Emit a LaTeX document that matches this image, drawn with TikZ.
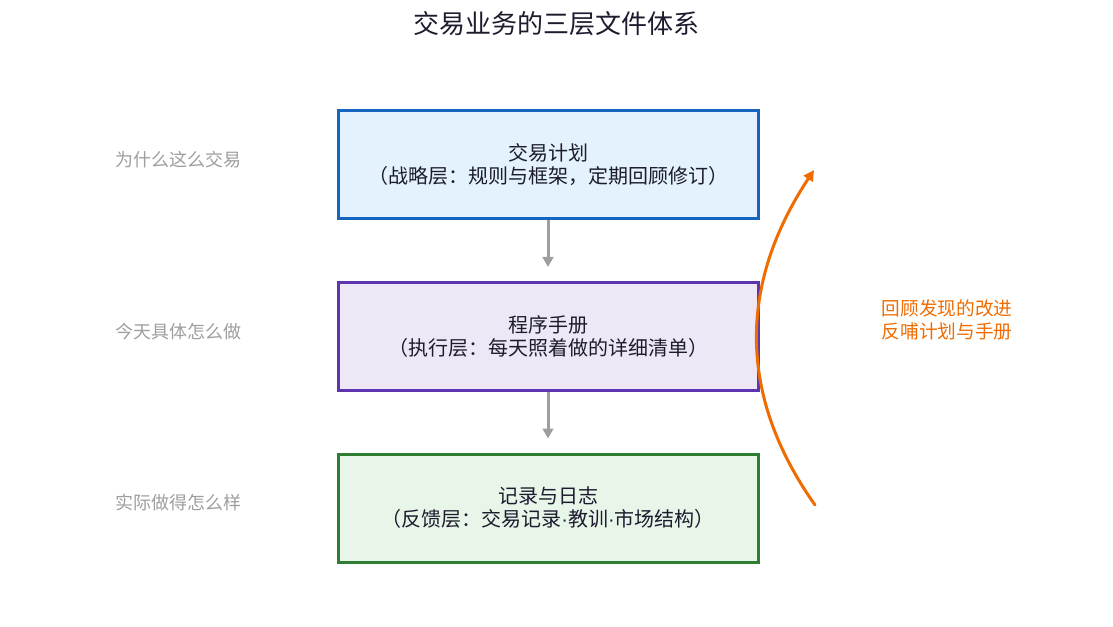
\documentclass[tikz,border=0pt]{standalone}
\usepackage{fontspec}
\setmainfont{Noto Sans CJK SC}
\newfontfamily\dotfont{Liberation Sans}
\usepackage{tikz}
\usetikzlibrary{arrows.meta}
\definecolor{planedge}{HTML}{1565C0}
\definecolor{planfill}{HTML}{E3F2FD}
\definecolor{manedge}{HTML}{5E35B1}
\definecolor{manfill}{HTML}{EDE7F6}
\definecolor{logedge}{HTML}{2E7D32}
\definecolor{logfill}{HTML}{E8F5E9}
\definecolor{loopcol}{HTML}{EF6C00}
\definecolor{asidecol}{HTML}{9E9E9E}
\definecolor{inkcol}{HTML}{1C1C2E}
\newcommand{\middot}{{\dotfont ·}}

\begin{document}
\begin{tikzpicture}[x=0.75pt, y=-0.75pt,
	layer/.style={draw, line width=2.25pt, minimum width=315pt, minimum height=81pt, align=center, text=inkcol, font=\fontsize{15}{17.25}\selectfont},
	aside/.style={text=asidecol, font=\fontsize{13.5}{16}\selectfont},
	down/.style={draw=asidecol, line width=2.25pt, -{Triangle[length=7.5pt,width=8pt]}, shorten >=10.5pt}]
	\useasboundingbox (0,0) rectangle (1113,627);
	\node[text=inkcol, font=\fontsize{19.5}{22}\selectfont] (title) at (556,24) {交易业务的三层文件体系};
	\node[layer, draw=planedge, fill=planfill] (plan) at (548,165) {交易计划\\（战略层：规则与框架，定期回顾修订）};
	\node[layer, draw=manedge, fill=manfill] (manual) at (548,336.5) {程序手册\\（执行层：每天照着做的详细清单）};
	\node[layer, draw=logedge, fill=logfill] (journal) at (548,508) {记录与日志\\（反馈层：交易记录\middot 教训\middot 市场结构）};
	\draw[down] (plan) -- (manual);
	\draw[down] (manual) -- (journal);
	\node[aside] (why) at (178,160) {为什么这么交易};
	\node[aside] (how) at (178,332) {今天具体怎么做};
	\node[aside] (did) at (178,503) {实际做得怎么样};
	% feedback loop
	\coordinate (loopstart) at (815,505);
	\coordinate (loopend) at (814,170);
	\draw[loopcol, line width=2.25pt, line cap=round, -{Triangle[length=8pt,width=8pt]}] (loopstart) .. controls (738,396) and (738,285) .. (loopend);
	\node[text=loopcol, align=center, font=\fontsize{14}{17.25}\selectfont] (loopnote) at (947,320) {回顾发现的改进\\反哺计划与手册};
\end{tikzpicture}
\end{document}
